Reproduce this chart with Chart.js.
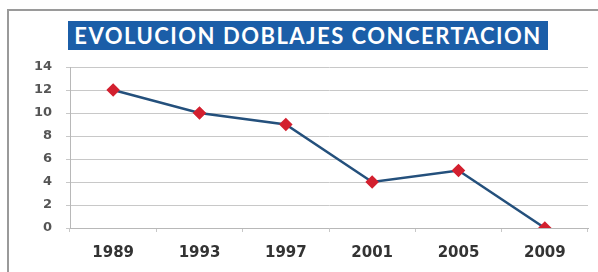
<!DOCTYPE html>
<html>
<head>
<meta charset="utf-8">
<script src="https://cdn.jsdelivr.net/npm/chart.js@4/dist/chart.umd.min.js"></script>
<style>
  html, body { margin: 0; padding: 0; background: #fff; }
  #wrap { position: relative; width: 598px; height: 272px; overflow: hidden; }
  #frame {
    position: absolute; left: 7px; top: 9px; width: 620px; height: 300px;
    border-left: 2px solid #9a9a9a; border-top: 2px solid #9a9a9a;
  }
  #title {
    position: absolute; left: 68px; top: 21px; width: 480px; height: 29px;
    background: #1b5ea8; color: #fff;
    font: bold 22px Lato, "Open Sans", sans-serif;
    letter-spacing: 1.5px;
    line-height: 29px; text-align: center; white-space: nowrap;
  }
  canvas { position: absolute; left: 0; top: 0; }
</style>
</head>
<body>
<div id="wrap">
  <div id="frame"></div>
  <canvas id="evolucionChart" width="598" height="272"></canvas>
  <div id="title">EVOLUCION DOBLAJES CONCERTACION</div>
</div>
<script>
// data
const years = ["1989", "1993", "1997", "2001", "2005", "2009"];
const doblajes = [12, 10, 9, 4, 5, 0];
const yTicks = [0, 2, 4, 6, 8, 10, 12, 14];

const ctx = document.getElementById("evolucionChart").getContext("2d");

new Chart(ctx, {
    type: "line",
    data: {
        labels: years,
        datasets: [{
            label: "Doblajes",
            data: doblajes,
            borderColor: "#24507c",
            borderWidth: 2.5,
            pointStyle: "rectRot",
            pointRadius: 5,
            pointBackgroundColor: "#d3202f",
            pointBorderColor: "#d3202f",
            tension: 0,
        }],
    },
    options: {
        responsive: false,
        animation: false,
        layout: { padding: { top: 67, right: 10, bottom: 0, left: 0 } },
        plugins: { legend: { display: false }, tooltip: { enabled: false } },
        scales: {
            x: {
                offset: true,
                grid: { offset: true, drawOnChartArea: false, tickLength: 4, color: "#c8c8c8" },
                border: { color: "#b8b8b8" },
                ticks: { padding: 12, color: "#333333", font: { family: "DejaVu Sans", size: 15, weight: "bold" } },
                afterFit: (scale) => { scale.height = 44; },
            },
            y: {
                min: 0,
                max: 14,
                afterBuildTicks: (scale) => { scale.ticks = yTicks.map((v) => ({ value: v })); },
                grid: { color: "#c8c8c8", tickLength: 4 },
                border: { color: "#b8b8b8" },
                ticks: { padding: 14, color: "#555555", font: { family: "DejaVu Sans", size: 13, weight: "bold" } },
                afterFit: (scale) => { scale.width = 70; },
            },
        },
    },
});
</script>
</body>
</html>
